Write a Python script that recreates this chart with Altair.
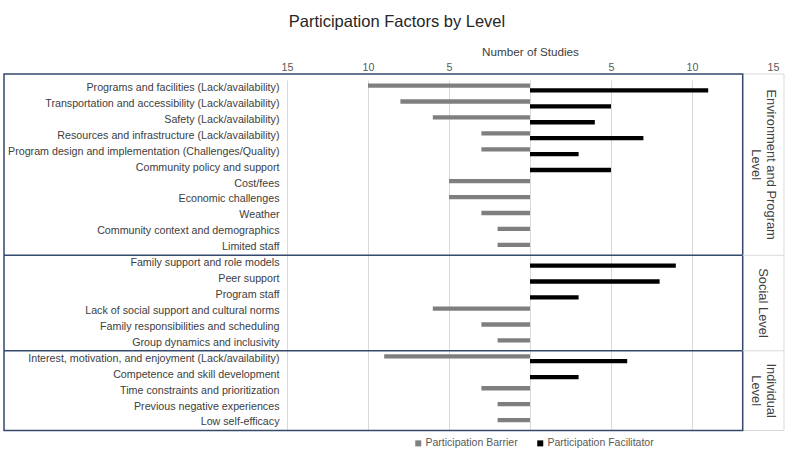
import altair as alt
import pandas as pd

# ---- data -----------------------------------------------------------------
env_factors = [
    "Programs and facilities (Lack/availability)",
    "Transportation and accessibility (Lack/availability)",
    "Safety (Lack/availability)",
    "Resources and infrastructure (Lack/availability)",
    "Program design and implementation (Challenges/Quality)",
    "Community policy and support",
    "Cost/fees",
    "Economic challenges",
    "Weather",
    "Community context and demographics",
    "Limited staff",
]
social_factors = [
    "Family support and role models",
    "Peer support",
    "Program staff",
    "Lack of social support and cultural norms",
    "Family responsibilities and scheduling",
    "Group dynamics and inclusivity",
]
individual_factors = [
    "Interest, motivation, and enjoyment (Lack/availability)",
    "Competence and skill development",
    "Time constraints and prioritization",
    "Previous negative experiences",
    "Low self-efficacy",
]
factors = env_factors + social_factors + individual_factors

barrier_counts = [10, 8, 6, 3, 3, 0, 5, 5, 3, 2, 2,
                  0, 0, 0, 6, 3, 2,
                  9, 0, 3, 2, 2]
facilitator_counts = [11, 5, 4, 7, 3, 5, 0, 0, 0, 0, 0,
                      9, 8, 3, 0, 0, 0,
                      6, 3, 0, 0, 0]

level_text = ["Environment and Program\nLevel", "Social Level", "Individual\nLevel"]

series = ["Participation Barrier", "Participation Facilitator"]
series_colors = ["#7f7f7f", "#000000"]
tick_values = [-15, -10, -5, 0, 5, 10, 15]

rows = []
for f, b, c in zip(factors, barrier_counts, facilitator_counts):
    if b:
        rows.append({"factor": f, "series": series[0], "studies": -b})
    if c:
        rows.append({"factor": f, "series": series[1], "studies": c})
bars_df = pd.DataFrame(rows)

# ---- layout ---------------------------------------------------------------
W, H = 486, 384
PAD_L, PAD_T, PAD_R = 287, 74, 21
FONT = "Liberation Sans"
NAVY = "#34496e"
LIGHT = "#d9d9d9"

# band geometry of the category axis
n_rows = len(factors)
row_step = 15.93
top_gap = 6.0
frame_bottom = top_gap + n_rows * row_step

frame_left = 4 - PAD_L
frame_right = 742.7 - PAD_L
strip_right = 784 - PAD_L
strip_mid = 763 - PAD_L
line_height = 15

yscale = alt.Scale(domain=factors, paddingInner=0, paddingOuter=0,
                   range=[top_gap, frame_bottom], round=False)
yaxis = alt.Axis(title=None, labelFontSize=10.7, labelColor="#404040", labelPadding=8,
                 ticks=False, domain=False, grid=False, labelLimit=340, labelFont=FONT)

xaxis = alt.Axis(orient="top", values=tick_values,
                 labelExpr="datum.value == 0 ? '' : '' + abs(datum.value)",
                 title="Number of Studies", titleFontSize=11.7, titleFontWeight="normal",
                 titleColor="#404040", titlePadding=4, titleFont=FONT,
                 labelFontSize=10.7, labelColor="#595959", labelPadding=2, labelFont=FONT,
                 labelFlush=False, labelOverlap=False,
                 ticks=False, tickSize=0, domain=False,
                 grid=True, gridColor=LIGHT, gridWidth=1)

one = pd.DataFrame({"k": [0]})

bars = alt.Chart(bars_df).mark_bar().encode(
    x=alt.X("studies:Q", scale=alt.Scale(domain=[-15, 15], nice=False), axis=xaxis),
    y=alt.Y("factor:N", scale=yscale, axis=yaxis, sort=factors),
    yOffset=alt.YOffset("series:N", scale=alt.Scale(domain=series, paddingInner=0.1,
                                                     paddingOuter=0.71)),
    color=alt.Color("series:N", scale=alt.Scale(domain=series, range=series_colors),
                    legend=alt.Legend(orient="none", legendX=126, legendY=364,
                                      direction="horizontal", title=None,
                                      symbolType="square", symbolSize=36,
                                      symbolStrokeWidth=0, labelFontSize=10.5,
                                      labelColor="#595959", labelFont=FONT,
                                      labelOffset=2, columnPadding=17, padding=0)),
)

# level strip on the right
strip = alt.Chart(one).mark_rect(fill="white", stroke=LIGHT, strokeWidth=1).encode(
    x=alt.value(frame_right), x2=alt.value(strip_right),
    y=alt.value(0), y2=alt.value(frame_bottom),
)

# outer frame around the factor rows
frame = alt.Chart(one).mark_rect(fill="white", fillOpacity=0, stroke=NAVY,
                                 strokeWidth=1.5).encode(
    x=alt.value(frame_left), x2=alt.value(frame_right),
    y=alt.value(0), y2=alt.value(frame_bottom),
)

# separators between levels
sep_df = pd.DataFrame({"factor": [social_factors[0], individual_factors[0]]})
sep_navy = alt.Chart(sep_df).mark_rule(color=NAVY, strokeWidth=1.5).encode(
    x=alt.value(frame_left), x2=alt.value(frame_right),
    y=alt.Y("factor:N", scale=yscale, axis=yaxis, sort=factors, bandPosition=0),
)
sep_gray = alt.Chart(sep_df).mark_rule(color=LIGHT, strokeWidth=1).encode(
    x=alt.value(frame_right), x2=alt.value(strip_right),
    y=alt.Y("factor:N", scale=yscale, axis=yaxis, sort=factors, bandPosition=0),
)

# level names, rotated, centred in each strip cell
first_bound = top_gap + len(env_factors) * row_step
env_anchor_pos = 0.5 + (first_bound / 2 - (top_gap + 5.5 * row_step)) / row_step
level_anchors = [
    (env_factors[5], env_anchor_pos),
    (social_factors[3], 0.0),
    (individual_factors[2], 0.5),
]
level_layers = []
for txt, (anchor, pos) in zip(level_text, level_anchors):
    n_lines = txt.count("\n") + 1
    # rotated text stacks extra lines to the left; shift so the block is centred
    x_pos = strip_mid + (n_lines - 1) * line_height / 2
    level_layers.append(
        alt.Chart(pd.DataFrame({"factor": [anchor], "txt": [txt]}))
        .mark_text(angle=90, align="center", baseline="middle", fontSize=12.9,
                   color="#404040", font=FONT, lineBreak="\n", lineHeight=line_height)
        .encode(
            x=alt.value(x_pos),
            y=alt.Y("factor:N", scale=yscale, axis=yaxis, sort=factors, bandPosition=pos),
            text="txt:N",
        )
    )

chart = alt.layer(bars, strip, frame, sep_navy, sep_gray, *level_layers).properties(
    width=W,
    height=H,
    autosize="none",
    padding={"left": PAD_L, "top": PAD_T, "right": PAD_R, "bottom": 0},
    title=alt.Title("Participation Factors by Level", fontSize=16.5, fontWeight="normal",
                    color="#262626", font=FONT, anchor="middle", dx=-133, offset=16),
).configure(font=FONT).configure_view(strokeWidth=0)

chart.save("out.html", embed_options={"renderer": "svg", "actions": False})
